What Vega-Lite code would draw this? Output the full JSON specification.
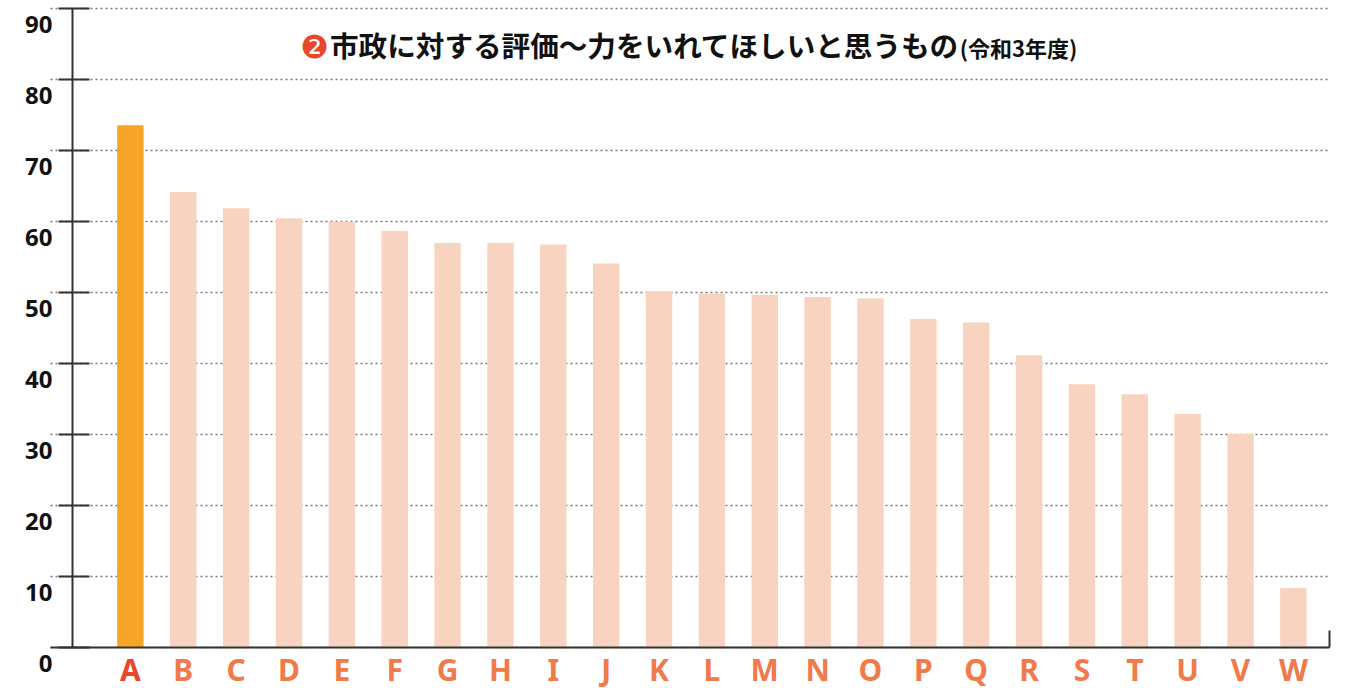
{
  "$schema": "https://vega.github.io/schema/vega-lite/v6.json",
  "autosize": {"type": "none"},
  "padding": {"left": 50, "top": 8, "right": 23, "bottom": 41},
  "width": 1279,
  "height": 639,
  "background": "white",
  "title": {
    "text": "市政に対する評価〜力をいれてほしいと思うもの",
    "anchor": "start",
    "frame": "group",
    "orient": "top",
    "dx": 280,
    "dy": 74,
    "baseline": "middle",
    "font": "Noto Sans CJK JP",
    "fontSize": 28.6,
    "fontWeight": 600,
    "color": "#111111"
  },
  "data": {
    "values": [
      {"item": "A", "value": 73.5, "highlight": "yes"},
      {"item": "B", "value": 64.1, "highlight": "no"},
      {"item": "C", "value": 61.8, "highlight": "no"},
      {"item": "D", "value": 60.4, "highlight": "no"},
      {"item": "E", "value": 59.9, "highlight": "no"},
      {"item": "F", "value": 58.6, "highlight": "no"},
      {"item": "G", "value": 56.9, "highlight": "no"},
      {"item": "H", "value": 56.9, "highlight": "no"},
      {"item": "I", "value": 56.7, "highlight": "no"},
      {"item": "J", "value": 54.0, "highlight": "no"},
      {"item": "K", "value": 50.1, "highlight": "no"},
      {"item": "L", "value": 49.8, "highlight": "no"},
      {"item": "M", "value": 49.6, "highlight": "no"},
      {"item": "N", "value": 49.3, "highlight": "no"},
      {"item": "O", "value": 49.1, "highlight": "no"},
      {"item": "P", "value": 46.2, "highlight": "no"},
      {"item": "Q", "value": 45.7, "highlight": "no"},
      {"item": "R", "value": 41.1, "highlight": "no"},
      {"item": "S", "value": 37.0, "highlight": "no"},
      {"item": "T", "value": 35.6, "highlight": "no"},
      {"item": "U", "value": 32.8, "highlight": "no"},
      {"item": "V", "value": 30.0, "highlight": "no"},
      {"item": "W", "value": 8.3, "highlight": "no"}
    ]
  },
  "encoding": {
    "x": {
      "field": "item",
      "type": "nominal",
      "sort": null,
      "scale": {"paddingInner": 0.5, "paddingOuter": 0.847, "align": 0.75},
      "axis": {
        "title": "(令和3年度)",
        "titleFont": "Noto Sans CJK JP",
        "titleFontSize": 22,
        "titleFontWeight": 600,
        "titleColor": "#111111",
        "titleX": 968,
        "titleY": -598,
        "titleAlign": "center",
        "titleBaseline": "middle",
        "titleAngle": 0,
        "labelAngle": 0,
        "labelFont": "Noto Sans",
        "labelFontSize": 30,
        "labelFontWeight": "bold",
        "labelPadding": 26,
        "labelColor": {"condition": {"test": "datum.value === 'A'", "value": "#E8472B"}, "value": "#F07A4A"},
        "ticks": true,
        "bandPosition": 1.856,
        "tickSize": -17,
        "tickWidth": 2,
        "tickColor": "#333333",
        "tickOpacity": {"condition": {"test": "datum.value === 'W'", "value": 1}, "value": 0},
        "domain": true,
        "domainColor": "#333333",
        "domainWidth": 2,
        "grid": false,
        "zindex": 2
      }
    },
    "y": {
      "field": "value",
      "type": "quantitative",
      "scale": {"domain": [0, 90], "nice": false}
    }
  },
  "layer": [
    {
      "mark": {"type": "bar"},
      "encoding": {
        "color": {
          "field": "highlight",
          "type": "nominal",
          "scale": {"domain": ["yes", "no"], "range": ["#F6A529", "#F8D4C0"]},
          "legend": null
        },
        "y": {
          "field": "value",
          "type": "quantitative",
          "scale": {"domain": [0, 90], "nice": false},
          "axis": {
            "orient": "left",
            "offset": -39,
            "values": [0, 10, 20, 30, 40, 50, 60, 70, 80, 90],
            "domain": false,
            "tickSize": 31,
            "tickColor": "#333333",
            "tickWidth": 2,
            "labelFont": "Noto Sans",
            "labelFontSize": 24,
            "labelFontWeight": "bold",
            "labelColor": "#111111",
            "labelPadding": 6,
            "labelBaseline": "middle",
            "labelOffset": 17,
            "grid": true,
            "gridColor": "#777777",
            "gridWidth": 1.5,
            "gridDash": [2, 3],
            "title": "❷",
            "titleFont": "DejaVu Sans",
            "titleFontSize": 32,
            "titleFontWeight": "normal",
            "titleColor": "#E8472B",
            "titleAngle": 0,
            "titleAlign": "center",
            "titleBaseline": "middle",
            "titleX": 225,
            "titleY": 39
          }
        }
      }
    },
    {
      "mark": {"type": "bar", "opacity": 0},
      "encoding": {
        "y": {
          "field": "value",
          "type": "quantitative",
          "scale": {"domain": [0, 90], "nice": false},
          "axis": {
            "orient": "right",
            "offset": -1257,
            "domain": true,
            "domainColor": "#333333",
            "domainWidth": 2,
            "ticks": false,
            "labels": false,
            "grid": false,
            "title": null,
            "zindex": 2
          }
        }
      }
    }
  ],
  "resolve": {"axis": {"y": "independent"}},
  "config": {
    "view": {"stroke": null}
  }
}
